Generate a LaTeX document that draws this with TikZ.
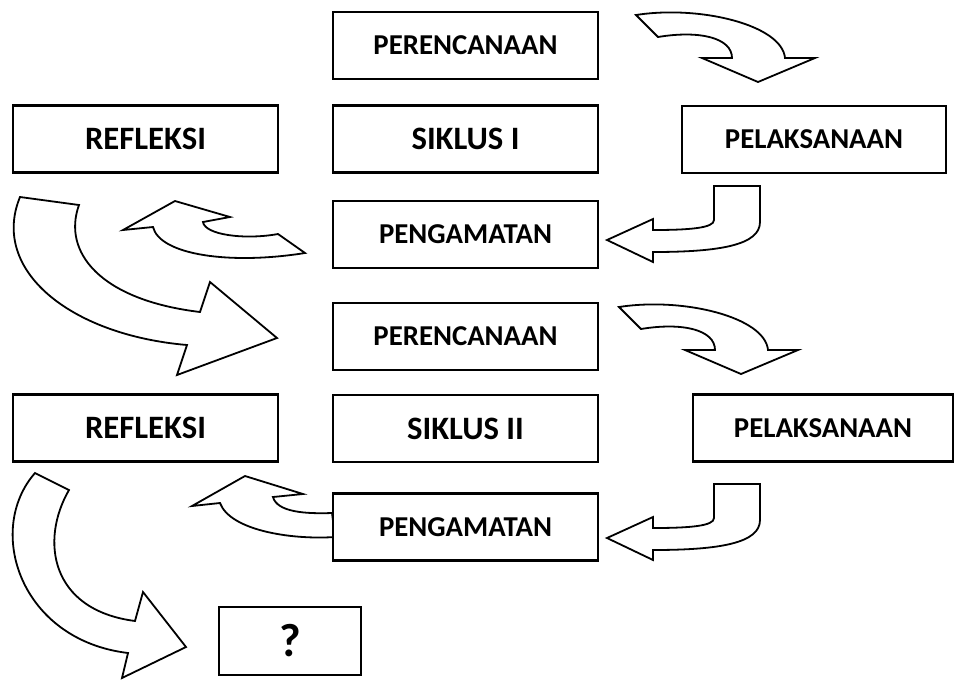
\documentclass[tikz,border=0pt]{standalone}
\usepackage{fontspec}
\setmainfont{Carlito}
\usetikzlibrary{positioning}
\tikzset{
    box/.style={
        rectangle,
        draw=black,
        line width=1.9pt,
        fill=white,
        minimum width=198.75pt,
        minimum height=50.25pt,
        inner sep=0pt,
        align=center,
        font=\fontsize{21.6}{25}\selectfont\bfseries
    },
    bigbox/.style={
        box,
        font=\fontsize{24.5}{28}\selectfont\bfseries
    },
    blockarrow/.style={
        draw=black,
        line width=1.35pt,
        fill=white,
        line join=miter
    },
    % curved arrow to the right, pointing down
    bendarrow/.pic={
        \draw[blockarrow] (636,15) -- (658,37) .. controls (700,30) and (732,38) .. (732,58)
            -- (702,58) -- (758,82) -- (815,58) -- (785,58)
            .. controls (782,25) and (700,5) .. (636,15) -- cycle;
    },
    % hook arrow, down then left
    hookarrow/.pic={
        \draw[blockarrow] (714,186) -- (714,220) .. controls (714,228) and (690,230) .. (653,230)
            -- (653,219) -- (607,240) -- (653,262) -- (653,252)
            .. controls (720,252) and (760,245) .. (760,222) -- (760,186) -- cycle;
    }
}

\begin{document}
\begin{tikzpicture}[x=0.75pt, y=-0.75pt]
    \useasboundingbox (0,0) rectangle (956,679);

    % Siklus I arrows
    \pic at (0,0) {bendarrow};
    \pic at (0,0) {hookarrow};
    \draw[blockarrow] (305,253) .. controls (230,265) and (160,255) .. (153,227)
        -- (123,230) -- (175,201) -- (230,217) -- (203,222)
        .. controls (205,235) and (245,240) .. (278,234) -- cycle;
    \draw[blockarrow] (20,197) -- (79,205) .. controls (62,252) and (100,300) .. (200,312)
        -- (210,282) -- (277,338) -- (177,375) -- (187,345)
        .. controls (70,335) and (-10,270) .. (20,197) -- cycle;

    % Siklus II arrows
    \pic at (-17,292) {bendarrow};
    \pic at (0,298) {hookarrow};
    \draw[blockarrow] (335,537) .. controls (290,540) and (230,530) .. (220,503)
        -- (192,506) -- (245,476) -- (303,494) -- (273,497)
        .. controls (277,512) and (305,514) .. (332,513) -- cycle;
    \draw[blockarrow] (35,473) -- (69,490) .. controls (40,540) and (50,610) .. (135,621)
        -- (143,592) -- (186,647) -- (122,678) -- (128,653)
        .. controls (20,640) and (-15,530) .. (35,473) -- cycle;

    % Siklus I
    \node[box] (plan1) at (465.5,45.5) {PERENCANAAN};
    \node[bigbox] (cycle1) at (465.5,139) {SIKLUS I};
    \node[bigbox] (reflect1) at (145.5,139) {REFLEKSI};
    \node[box, minimum width=198pt] (act1) at (814,139.5) {PELAKSANAAN};
    \node[box] (observe1) at (465.5,234.5) {PENGAMATAN};

    % Siklus II
    \node[box] (plan2) at (465.5,336.5) {PERENCANAAN};
    \node[bigbox] (cycle2) at (465.5,428.5) {SIKLUS II};
    \node[bigbox] (reflect2) at (145.5,428) {REFLEKSI};
    \node[box, minimum width=195pt] (act2) at (823,428) {PELAKSANAAN};
    \node[box] (observe2) at (465.5,527) {PENGAMATAN};

    % Next
    \node[box, font=\fontsize{35}{38}\selectfont\bfseries, minimum width=106.5pt, minimum height=51pt] (next) at (290,641) {?};

\end{tikzpicture}
\end{document}
